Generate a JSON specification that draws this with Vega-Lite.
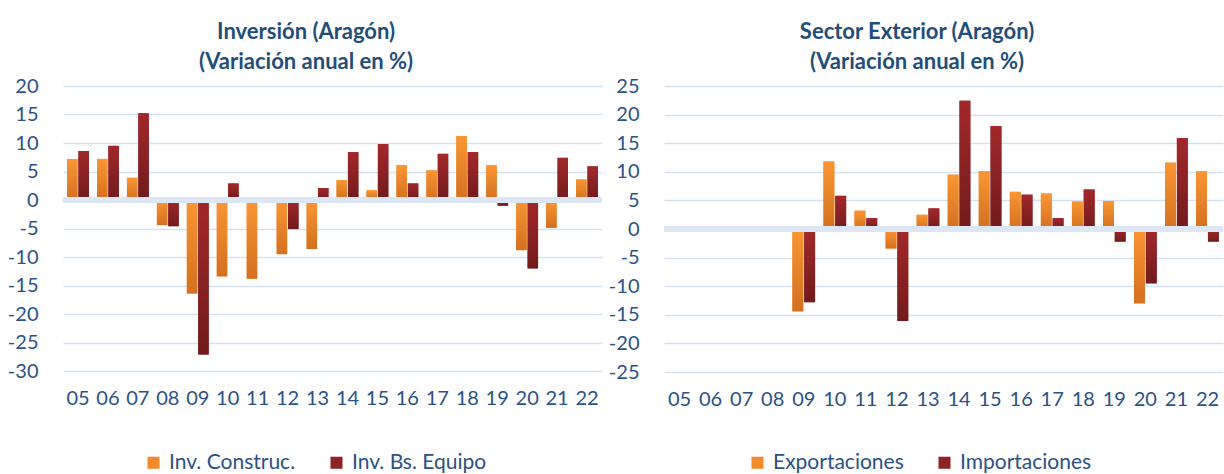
{
  "$schema": "https://vega.github.io/schema/vega-lite/v6.json",
  "background": "white",
  "padding": {"top": 21, "left": 7, "right": 0, "bottom": 0},
  "spacing": 3,
  "config": {
    "font": "Lato",
    "view": {"stroke": null},
    "title": {"fontSize": 22, "fontWeight": "bold", "color": "#1F4E79", "lineHeight": 30, "anchor": "middle", "frame": "bounds", "offset": 2},
    "axis": {"labelFont": "Lato", "labelFontSize": 20, "labelColor": "#2A5285", "domain": false, "ticks": false, "title": null, "labelOverlap": false},
    "axisY": {"gridColor": "#D6E1F1", "gridWidth": 1.5, "labelPadding": 25, "labelExpr": "datum.value + ''"},
    "axisX": {"grid": false, "labelAngle": 0, "labelPadding": 17},
    "legend": {"labelFont": "Lato", "labelFontSize": 21, "labelColor": "#2A5285", "symbolType": "square", "symbolSize": 145, "symbolStrokeWidth": 0, "symbolOpacity": 1, "columnPadding": 30, "labelOffset": 5, "title": null, "orient": "none", "direction": "horizontal"}
  },
  "datasets": {
    "inv": [
      {"year": "05", "serie": "Inv. Construc.", "value": 7.2}, {"year": "05", "serie": "Inv. Bs. Equipo", "value": 8.6},
      {"year": "06", "serie": "Inv. Construc.", "value": 7.2}, {"year": "06", "serie": "Inv. Bs. Equipo", "value": 9.5},
      {"year": "07", "serie": "Inv. Construc.", "value": 3.9}, {"year": "07", "serie": "Inv. Bs. Equipo", "value": 15.2},
      {"year": "08", "serie": "Inv. Construc.", "value": -4.4}, {"year": "08", "serie": "Inv. Bs. Equipo", "value": -4.6},
      {"year": "09", "serie": "Inv. Construc.", "value": -16.4}, {"year": "09", "serie": "Inv. Bs. Equipo", "value": -27.1},
      {"year": "10", "serie": "Inv. Construc.", "value": -13.4}, {"year": "10", "serie": "Inv. Bs. Equipo", "value": 2.9},
      {"year": "11", "serie": "Inv. Construc.", "value": -13.8}, {"year": "11", "serie": "Inv. Bs. Equipo", "value": 0},
      {"year": "12", "serie": "Inv. Construc.", "value": -9.5}, {"year": "12", "serie": "Inv. Bs. Equipo", "value": -5.1},
      {"year": "13", "serie": "Inv. Construc.", "value": -8.6}, {"year": "13", "serie": "Inv. Bs. Equipo", "value": 2.1},
      {"year": "14", "serie": "Inv. Construc.", "value": 3.5}, {"year": "14", "serie": "Inv. Bs. Equipo", "value": 8.4},
      {"year": "15", "serie": "Inv. Construc.", "value": 1.7}, {"year": "15", "serie": "Inv. Bs. Equipo", "value": 9.8},
      {"year": "16", "serie": "Inv. Construc.", "value": 6.1}, {"year": "16", "serie": "Inv. Bs. Equipo", "value": 2.9},
      {"year": "17", "serie": "Inv. Construc.", "value": 5.2}, {"year": "17", "serie": "Inv. Bs. Equipo", "value": 8.1},
      {"year": "18", "serie": "Inv. Construc.", "value": 11.2}, {"year": "18", "serie": "Inv. Bs. Equipo", "value": 8.4},
      {"year": "19", "serie": "Inv. Construc.", "value": 6.1}, {"year": "19", "serie": "Inv. Bs. Equipo", "value": -1.0},
      {"year": "20", "serie": "Inv. Construc.", "value": -8.8}, {"year": "20", "serie": "Inv. Bs. Equipo", "value": -12.0},
      {"year": "21", "serie": "Inv. Construc.", "value": -4.9}, {"year": "21", "serie": "Inv. Bs. Equipo", "value": 7.4},
      {"year": "22", "serie": "Inv. Construc.", "value": 3.6}, {"year": "22", "serie": "Inv. Bs. Equipo", "value": 5.9}
    ],
    "ext": [
      {"year": "09", "serie": "Exportaciones", "value": -14.4}, {"year": "09", "serie": "Importaciones", "value": -12.8},
      {"year": "10", "serie": "Exportaciones", "value": 11.8}, {"year": "10", "serie": "Importaciones", "value": 5.8},
      {"year": "11", "serie": "Exportaciones", "value": 3.2}, {"year": "11", "serie": "Importaciones", "value": 1.9},
      {"year": "12", "serie": "Exportaciones", "value": -3.4}, {"year": "12", "serie": "Importaciones", "value": -16.1},
      {"year": "13", "serie": "Exportaciones", "value": 2.5}, {"year": "13", "serie": "Importaciones", "value": 3.6},
      {"year": "14", "serie": "Exportaciones", "value": 9.5}, {"year": "14", "serie": "Importaciones", "value": 22.4},
      {"year": "15", "serie": "Exportaciones", "value": 10.1}, {"year": "15", "serie": "Importaciones", "value": 18.0},
      {"year": "16", "serie": "Exportaciones", "value": 6.5}, {"year": "16", "serie": "Importaciones", "value": 6.0},
      {"year": "17", "serie": "Exportaciones", "value": 6.2}, {"year": "17", "serie": "Importaciones", "value": 1.9},
      {"year": "18", "serie": "Exportaciones", "value": 4.8}, {"year": "18", "serie": "Importaciones", "value": 6.9},
      {"year": "19", "serie": "Exportaciones", "value": 4.9}, {"year": "19", "serie": "Importaciones", "value": -2.2},
      {"year": "20", "serie": "Exportaciones", "value": -13.0}, {"year": "20", "serie": "Importaciones", "value": -9.5},
      {"year": "21", "serie": "Exportaciones", "value": 11.6}, {"year": "21", "serie": "Importaciones", "value": 15.9},
      {"year": "22", "serie": "Exportaciones", "value": 10.1}, {"year": "22", "serie": "Importaciones", "value": -2.2}
    ]
  },
  "resolve": {"scale": {"x": "independent", "y": "independent", "color": "independent", "xOffset": "independent"}, "legend": {"color": "independent"}},
  "hconcat": [
    {
      "title": {"text": ["Inversión (Aragón)", "(Variación anual en %)"]},
      "width": 539,
      "height": 285,
      "data": {"name": "inv"},
      "encoding": {
        "x": {"field": "year", "type": "ordinal", "sort": null, "scale": {"domain": ["05","06","07","08","09","10","11","12","13","14","15","16","17","18","19","20","21","22"], "paddingInner": 0.27, "paddingOuter": 0.135}},
        "xOffset": {"field": "serie", "type": "nominal", "sort": ["Inv. Construc.", "Inv. Bs. Equipo"], "scale": {"paddingInner": 0.08}},
        "y": {"field": "value", "type": "quantitative", "scale": {"domain": [-30, 20], "nice": false}, "axis": {"values": [-30,-25,-20,-15,-10,-5,0,5,10,15,20]}}
      },
      "layer": [
        {
          "mark": {"type": "bar"},
          "encoding": {
            "color": {"field": "serie", "type": "nominal", "sort": ["Inv. Construc.", "Inv. Bs. Equipo"], "scale": {"domain": ["Inv. Construc.", "Inv. Bs. Equipo"], "range": ["#F28A2E", "#8E2225"]}, "legend": {"legendX": 80, "legendY": 366}}
          }
        },
        {
          "mark": {"type": "bar"},
          "encoding": {
            "fill": {
              "condition": {"test": "datum.serie === 'Inv. Construc.'", "value": {"gradient": "linear", "x1": 0, "y1": 0, "x2": 0, "y2": 1, "stops": [{"offset": 0, "color": "#FA9634"}, {"offset": 1, "color": "#D4701F"}]}},
              "value": {"gradient": "linear", "x1": 0, "y1": 0, "x2": 0, "y2": 1, "stops": [{"offset": 0, "color": "#A3282A"}, {"offset": 1, "color": "#711B1C"}]}
            }
          }
        },
        {
          "mark": {"type": "rule", "color": "#DCE6F4", "strokeWidth": 5.5},
          "encoding": {"y": {"datum": 0}, "x": null, "xOffset": null}
        }
      ]
    },
    {
      "title": {"text": ["Sector Exterior (Aragón)", "(Variación anual en %)"]},
      "width": 559,
      "height": 286,
      "data": {"name": "ext"},
      "encoding": {
        "x": {"field": "year", "type": "ordinal", "sort": null, "scale": {"domain": ["05","06","07","08","09","10","11","12","13","14","15","16","17","18","19","20","21","22"], "paddingInner": 0.27, "paddingOuter": 0.135}},
        "xOffset": {"field": "serie", "type": "nominal", "sort": ["Exportaciones", "Importaciones"], "scale": {"paddingInner": 0.08}},
        "y": {"field": "value", "type": "quantitative", "scale": {"domain": [-25, 25], "nice": false}, "axis": {"values": [-25,-20,-15,-10,-5,0,5,10,15,20,25]}}
      },
      "layer": [
        {
          "mark": {"type": "bar"},
          "encoding": {
            "color": {"field": "serie", "type": "nominal", "sort": ["Exportaciones", "Importaciones"], "scale": {"domain": ["Exportaciones", "Importaciones"], "range": ["#F28A2E", "#8E2225"]}, "legend": {"legendX": 83, "legendY": 366}}
          }
        },
        {
          "mark": {"type": "bar"},
          "encoding": {
            "fill": {
              "condition": {"test": "datum.serie === 'Exportaciones'", "value": {"gradient": "linear", "x1": 0, "y1": 0, "x2": 0, "y2": 1, "stops": [{"offset": 0, "color": "#FA9634"}, {"offset": 1, "color": "#D4701F"}]}},
              "value": {"gradient": "linear", "x1": 0, "y1": 0, "x2": 0, "y2": 1, "stops": [{"offset": 0, "color": "#A3282A"}, {"offset": 1, "color": "#711B1C"}]}
            }
          }
        },
        {
          "mark": {"type": "rule", "color": "#DCE6F4", "strokeWidth": 5.5},
          "encoding": {"y": {"datum": 0}, "x": null, "xOffset": null}
        }
      ]
    }
  ]
}
